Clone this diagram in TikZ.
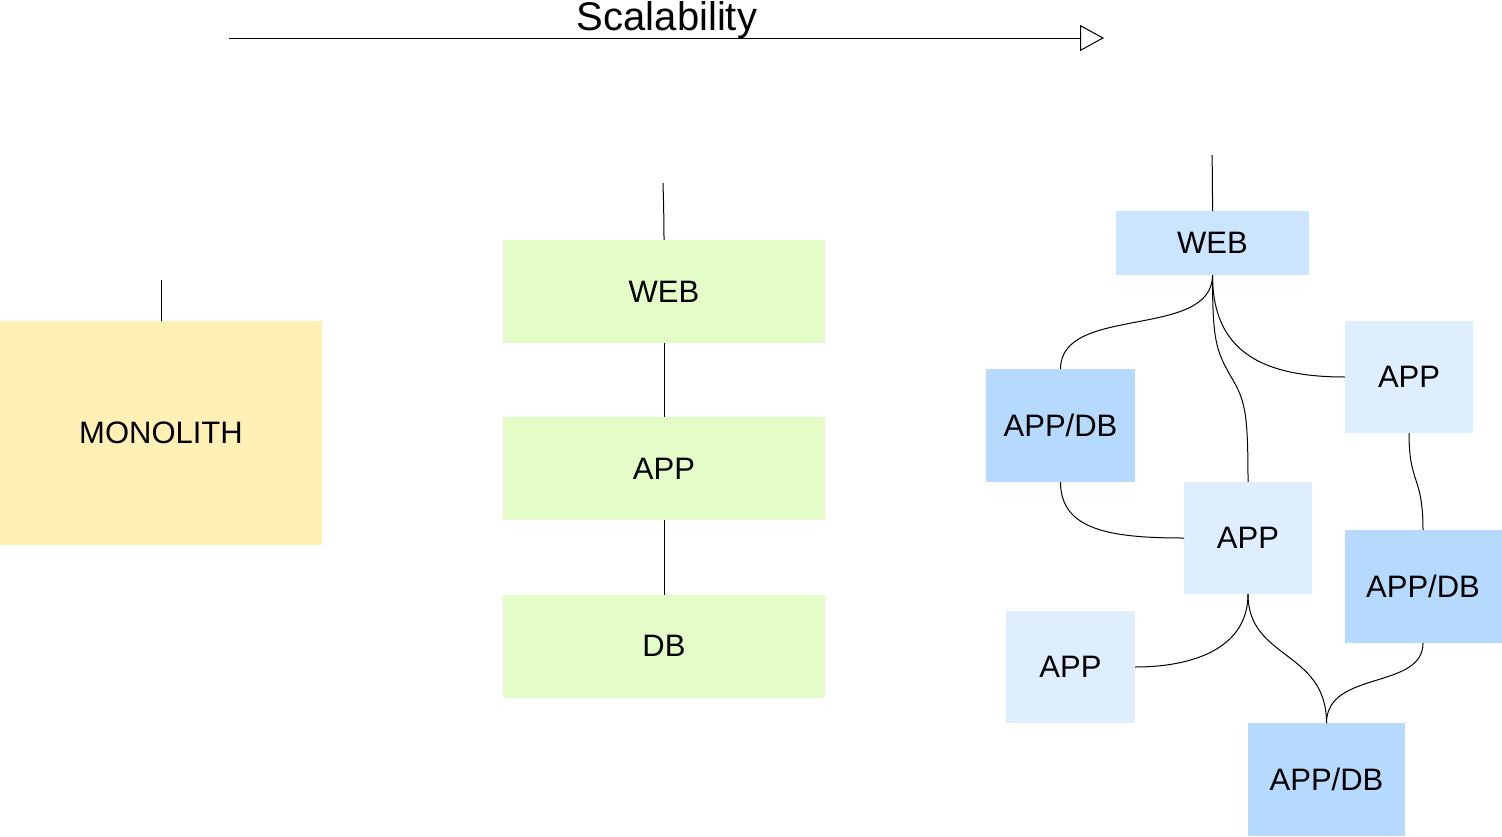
\documentclass[tikz,border=0pt]{standalone}
\usepackage{fontspec}
\setmainfont{Liberation Sans}
\usetikzlibrary{arrows.meta}
\definecolor{monoY}{HTML}{FFF1B5}
\definecolor{tierG}{HTML}{E4FDC8}
\definecolor{webB}{HTML}{CCE5FF}
\definecolor{appB}{HTML}{DFEEFF}
\definecolor{adbB}{HTML}{B6DAFD}
\tikzset{
  box/.style={inner sep=0pt, outer sep=0pt, draw=none, font=\fontsize{31}{37}\selectfont},
  conn/.style={line width=1pt, black},
}
\begin{document}
\begin{tikzpicture}[x=1pt,y=-1pt]
\useasboundingbox (0,0) rectangle (1502,836);
% title arrow
\node[anchor=base, font=\fontsize{40}{48}\selectfont] (title) at (667,30.5) {Scalability};
\coordinate (arrA) at (229,38);
\coordinate (arrB) at (1104,38);
\draw[line width=1pt, -{Triangle[open,length=24pt,width=26pt,line width=1pt]}] (arrA) -- (arrB);

% monolith
\node[box, fill=monoY, minimum width=322pt, minimum height=224pt] (mono) at (161,433) {MONOLITH};
\coordinate (monoTop) at (161,280);
\draw[conn] (monoTop) -- (mono.north);

% three-tier
\node[box, fill=tierG, minimum width=322pt, minimum height=103pt] (gweb) at (664,291.5) {WEB};
\node[box, fill=tierG, minimum width=322pt, minimum height=103pt] (gapp) at (664,468.5) {APP};
\node[box, fill=tierG, minimum width=322pt, minimum height=103pt] (gdb) at (664,646) {DB};
\coordinate (gTop) at (663,183);
\draw[conn] (gTop) .. controls (663.5,200) and (664,220) .. (gweb.north);
\draw[conn] (gweb.south) -- (gapp.north);
\draw[conn] (gapp.south) -- (gdb.north);

% distributed
\node[box, fill=webB, minimum width=193pt, minimum height=64pt] (rweb) at (1212.5,243) {WEB};
\node[box, fill=adbB, minimum width=149pt, minimum height=113pt] (adb1) at (1060.5,425.5) {APP/DB};
\node[box, fill=appB, minimum width=128pt, minimum height=112pt] (app1) at (1409,377) {APP};
\node[box, fill=appB, minimum width=128pt, minimum height=112pt] (app2) at (1248,538) {APP};
\node[box, fill=adbB, minimum width=157pt, minimum height=113pt] (adb2) at (1423,586.5) {APP/DB};
\node[box, fill=appB, minimum width=129pt, minimum height=112pt] (app3) at (1070.5,667) {APP};
\node[box, fill=adbB, minimum width=157pt, minimum height=113pt] (adb3) at (1326.5,779.5) {APP/DB};

\coordinate (rTop) at (1212,155);
\draw[conn] (rTop) .. controls (1212.5,175) and (1212.5,195) .. (rweb.north);
\draw[conn] (rweb.south) .. controls (1212.5,340) and (1060.5,304) .. (adb1.north);
\draw[conn] (rweb.south) .. controls (1212.5,340) and (1216,350) .. (1230,375) .. controls (1245,400) and (1248,410) .. (app2.north);
\draw[conn] (rweb.south) .. controls (1212.5,350) and (1260,377) .. (app1.west);
\draw[conn] (app1.south) .. controls (1409,485) and (1423,475) .. (adb2.north);
\draw[conn] (adb1.south) .. controls (1060.5,530) and (1110,538) .. (app2.west);
\draw[conn] (app2.south) .. controls (1248,650) and (1190,667) .. (app3.east);
\draw[conn] (app2.south) .. controls (1248,660) and (1326.5,650) .. (adb3.north);
\draw[conn] (adb2.south) .. controls (1423,690) and (1326.5,670) .. (adb3.north);
\end{tikzpicture}
\end{document}
